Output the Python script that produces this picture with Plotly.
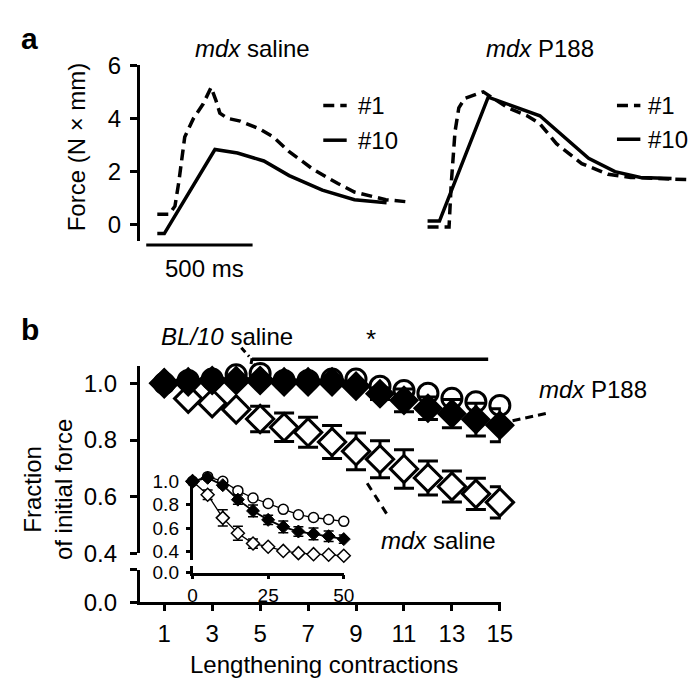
import plotly.graph_objects as go

# ---------------- data ----------------
# Panel a: force traces (time in ms, force in N x mm)
sal_t1 = [27, 83, 110, 128, 156, 197, 243, 280, 303, 321, 358, 417, 509, 573, 647, 757, 876, 954, 1046, 1101, 1193]
sal_f1 = [0.40, 0.40, 0.70, 1.6, 3.3, 4.0, 4.55, 5.17, 4.67, 4.2, 4.0, 3.9, 3.6, 3.3, 2.75, 2.1, 1.55, 1.23, 1.05, 0.94, 0.87]
sal_t10 = [27, 60, 298, 404, 528, 647, 803, 954, 1105]
sal_f10 = [-0.33, -0.33, 2.83, 2.7, 2.4, 1.85, 1.3, 0.94, 0.83]

p188_t1 = [27, 128, 138, 156, 174, 202, 289, 326, 404, 495, 555, 633, 752, 876, 982, 1243]
p188_f1 = [-0.08, -0.08, 1.5, 3.5, 4.4, 4.75, 5.0, 4.8, 4.4, 4.1, 3.8, 3.05, 2.3, 1.9, 1.78, 1.7]
p188_t10 = [27, 83, 312, 555, 784, 908, 1028, 1174]
p188_f10 = [0.14, 0.14, 4.8, 4.1, 2.5, 2.0, 1.78, 1.74]

# Panel b: fraction of initial force
contractions = list(range(1, 16))
bl10 = [1.0, 1.01, 1.015, 1.03, 1.035, 1.01, 1.01, 1.015, 1.015, 0.99, 0.975, 0.965, 0.947, 0.935, 0.922]
p188 = [1.0, 1.005, 1.01, 1.01, 1.01, 1.005, 1.005, 1.005, 0.99, 0.963, 0.94, 0.912, 0.893, 0.872, 0.852]
p188_err = [0, 0, 0, 0, 0, 0, 0, 0, 0.01, 0.02, 0.04, 0.04, 0.05, 0.058, 0.058]
mdx = [1.0, 0.946, 0.93, 0.908, 0.874, 0.845, 0.827, 0.793, 0.76, 0.732, 0.698, 0.666, 0.636, 0.61, 0.58]
mdx_err = [0, 0.005, 0.01, 0.015, 0.045, 0.05, 0.053, 0.058, 0.065, 0.065, 0.068, 0.06, 0.055, 0.055, 0.055]

# Inset
inset_x = [0, 5, 10, 15, 20, 25, 30, 35, 40, 45, 50]
bl10_in = [1.0, 1.04, 1.0, 0.92, 0.857, 0.81, 0.76, 0.714, 0.69, 0.673, 0.657]
p188_in = [1.0, 1.03, 0.967, 0.843, 0.747, 0.67, 0.61, 0.57, 0.55, 0.53, 0.505]
p188_in_err = [0, 0, 0.02, 0.04, 0.05, 0.04, 0.05, 0.04, 0.05, 0.045, 0.035]
mdx_in = [1.0, 0.885, 0.687, 0.555, 0.467, 0.44, 0.404, 0.385, 0.376, 0.371, 0.363]
mdx_in_err = [0, 0.04, 0.07, 0.06, 0.04, 0.01, 0.01, 0.01, 0.01, 0.01, 0.01]

# ---------------- layout helpers ----------------
W, H = 700, 691
FONT = "Liberation Sans, Arial, sans-serif"
FS = 24


def px(x):
    return x / W


def py(y):
    return 1 - y / H


MS_PER_PX = 500 / 109.0
DASH = "11px,6px"
fig = go.Figure()

# ---------------- panel a ----------------
fig.add_trace(go.Scatter(x=sal_t1, y=sal_f1, mode="lines", xaxis="x", yaxis="y",
                         line=dict(color="black", width=3.5, dash=DASH)))
fig.add_trace(go.Scatter(x=sal_t10, y=sal_f10, mode="lines", xaxis="x", yaxis="y",
                         line=dict(color="black", width=3.5)))
fig.add_trace(go.Scatter(x=p188_t1, y=p188_f1, mode="lines", xaxis="x2", yaxis="y2",
                         line=dict(color="black", width=3.5, dash=DASH)))
fig.add_trace(go.Scatter(x=p188_t10, y=p188_f10, mode="lines", xaxis="x2", yaxis="y2",
                         line=dict(color="black", width=3.5)))

# empty traces so that the broken-axis subplots exist
fig.add_trace(go.Scatter(x=[], y=[], xaxis="x3", yaxis="y4", hoverinfo="skip"))
fig.add_trace(go.Scatter(x=[], y=[], xaxis="x5", yaxis="y6", hoverinfo="skip"))

# ---------------- panel b ----------------
fig.add_trace(go.Scatter(x=contractions, y=bl10, mode="markers", xaxis="x3", yaxis="y3",
                         cliponaxis=False,
                         marker=dict(symbol="circle", size=20, color="white",
                                     line=dict(color="black", width=3))))
fig.add_trace(go.Scatter(x=contractions, y=mdx, mode="markers", xaxis="x3", yaxis="y3",
                         cliponaxis=False,
                         error_y=dict(type="data", array=mdx_err, visible=True,
                                      thickness=3, width=10, color="black"),
                         marker=dict(symbol="diamond", size=21, color="white",
                                     line=dict(color="black", width=3))))
fig.add_trace(go.Scatter(x=contractions, y=p188, mode="markers", xaxis="x3", yaxis="y3",
                         cliponaxis=False,
                         error_y=dict(type="data", array=p188_err, visible=True,
                                      thickness=3, width=10, color="black"),
                         marker=dict(symbol="diamond", size=21, color="black",
                                     line=dict(color="black", width=2))))

# inset
fig.add_trace(go.Scatter(x=inset_x, y=bl10_in, mode="lines+markers", xaxis="x5", yaxis="y5",
                         cliponaxis=False,
                         line=dict(color="black", width=1.3),
                         marker=dict(symbol="circle", size=10, color="white",
                                     line=dict(color="black", width=1.5))))
fig.add_trace(go.Scatter(x=inset_x, y=mdx_in, mode="lines+markers", xaxis="x5", yaxis="y5",
                         cliponaxis=False,
                         line=dict(color="black", width=1.3),
                         error_y=dict(type="data", array=mdx_in_err, visible=True,
                                      thickness=1.5, width=5, color="black"),
                         marker=dict(symbol="diamond", size=10, color="white",
                                     line=dict(color="black", width=1.5))))
fig.add_trace(go.Scatter(x=inset_x, y=p188_in, mode="lines+markers", xaxis="x5", yaxis="y5",
                         cliponaxis=False,
                         line=dict(color="black", width=1.8),
                         error_y=dict(type="data", array=p188_in_err, visible=True,
                                      thickness=1.5, width=5, color="black"),
                         marker=dict(symbol="diamond", size=10, color="black",
                                     line=dict(color="black", width=1))))

axis_common = dict(showgrid=False, zeroline=False, linecolor="black", tickcolor="black",
                   tickfont=dict(family=FONT, size=FS, color="black"))
inset_common = dict(showgrid=False, zeroline=False, linecolor="black", tickcolor="black",
                    tickfont=dict(family=FONT, size=19, color="black"))

x_left_px, x_right_px = 130, 416
layout = dict(
    width=W, height=H, autosize=False, showlegend=False,
    margin=dict(l=0, r=0, t=0, b=0),
    paper_bgcolor="white", plot_bgcolor="rgba(0,0,0,0)",
    font=dict(family=FONT, size=FS, color="black"),
    xaxis=dict(domain=[px(x_left_px), px(x_right_px)],
               range=[(x_left_px - 142) * MS_PER_PX, (x_right_px - 142) * MS_PER_PX],
               visible=False, anchor="y"),
    yaxis=dict(domain=[py(228), py(45)], range=[-0.614, 6.0], anchor="x",
               showline=True, linewidth=3, ticks="outside", ticklen=7, tickwidth=3,
               tickvals=[0, 2, 4, 6], ticklabelstandoff=4, **axis_common),
    xaxis2=dict(domain=[px(419), 1.0], range=[0, (700 - 419) * MS_PER_PX],
                visible=False, anchor="y2"),
    yaxis2=dict(domain=[py(228), py(45)], range=[-0.614, 6.0], anchor="x2", visible=False),
    xaxis3=dict(domain=[px(130), px(500)], range=[1 - 25 / 24.57, 1 + 345 / 24.57],
                anchor="y4", showline=True, linewidth=3, ticks="outside", ticklen=6,
                tickwidth=3, tickvals=contractions[::2], ticklabelstandoff=2, **axis_common),
    yaxis3=dict(domain=[py(553), py(358)], range=[0.4, 1.061], anchor="x3",
                showline=True, linewidth=3, ticks="outside", ticklen=7, tickwidth=3,
                tickvals=[0.4, 0.6, 0.8, 1.0], ticktext=["0.4", "0.6", "0.8", "1.0"],
                ticklabelstandoff=8, **axis_common),
    yaxis4=dict(domain=[py(604), py(570)], range=[0, 0.1], anchor="x3",
                showline=True, linewidth=3, ticks="outside", ticklen=7, tickwidth=3,
                tickvals=[0, 0.1], ticktext=["0.0", ""], ticklabelstandoff=8, **axis_common),
    xaxis5=dict(domain=[px(184), px(339)], range=[0, 50], anchor="y6",
                showline=True, linewidth=2.5, ticks="outside", ticklen=4, tickwidth=2.5,
                tickvals=[0, 25, 50], ticklabelstandoff=0, **inset_common),
    yaxis5=dict(domain=[py(560), py(473)], range=[1 - 82 / 121.5, 1 + 5 / 121.5], anchor="x5",
                showline=True, linewidth=2.5, ticks="outside", ticklen=4, tickwidth=2.5,
                tickvals=[0.4, 0.6, 0.8, 1.0], ticktext=["0.4", "0.6", "0.8", "1.0"],
                ticklabelstandoff=3, **inset_common),
    yaxis6=dict(domain=[py(573), py(566)], range=[0, 0.0576], anchor="x5",
                showline=True, linewidth=2.5, ticks="outside", ticklen=4, tickwidth=2.5,
                tickvals=[0], ticktext=["0.0"], ticklabelstandoff=3, **inset_common),
)
fig.update_layout(**layout)

ann = []


def text(x, y, s, size=FS, bold=False, angle=0, xanchor="center", xref="paper"):
    ann.append(dict(x=x if xref != "paper" else px(x), y=py(y), xref=xref, yref="paper",
                    text=("<b>%s</b>" % s) if bold else s, showarrow=False,
                    xanchor=xanchor, yanchor="middle", textangle=angle,
                    font=dict(family=FONT, size=size, color="black")))


text(17, 17, "a", size=30, bold=True)
text(245, 28, "<i>mdx</i> saline")
text(540, 28, "<i>mdx</i> P188")
text(66, 130, "Force (N × mm)", angle=-90)
text(250, 257, "500 ms", xref="x")
text(352, 87, "#1", xanchor="left")
text(352, 123, "#10", xanchor="left")
text(649, 87, "#1", xanchor="left")
text(649, 122, "#10", xanchor="left")

text(17, 320, "b", size=30, bold=True)
text(219, 327, "<i>BL/10</i> saline")
text(367, 330, "*", size=26)
text(594, 382, "<i>mdx</i> P188")
text(436, 540, "<i>mdx</i> saline")
text(36, 487, "Fraction<br>of initial force", angle=-90)
text(319, 669, "Lengthening contractions")

shapes = []


def seg(x0, y0, x1, y1, width=3, dash=None):
    shapes.append(dict(type="line", xref="paper", yref="paper",
                       x0=px(x0), y0=py(y0), x1=px(x1), y1=py(y1),
                       line=dict(color="black", width=width, dash=dash)))


# scale bar (500 ms, in data units of panel a)
shapes.append(dict(type="line", xref="x", yref="paper", x0=-25, x1=475,
                   y0=py(232), y1=py(232), line=dict(color="black", width=3)))
# legend samples
seg(318, 87, 342, 87, width=3.5, dash=DASH)
seg(318, 123, 342, 123, width=3.5)
seg(619, 87, 643, 87, width=3.5, dash=DASH)
seg(619, 122, 643, 122, width=3.5)
# significance bar
seg(245, 351, 487, 351, width=3.5)
seg(245, 350, 244, 356, width=3)
# pointers
seg(234, 339, 242, 348, width=3, dash="6px,4px")
seg(512, 415, 548, 407, width=3, dash="8px,5px")
seg(363, 480, 385, 515, width=3, dash="8px,6px")

fig.update_layout(annotations=ann, shapes=shapes)
fig.write_html("out.html")
